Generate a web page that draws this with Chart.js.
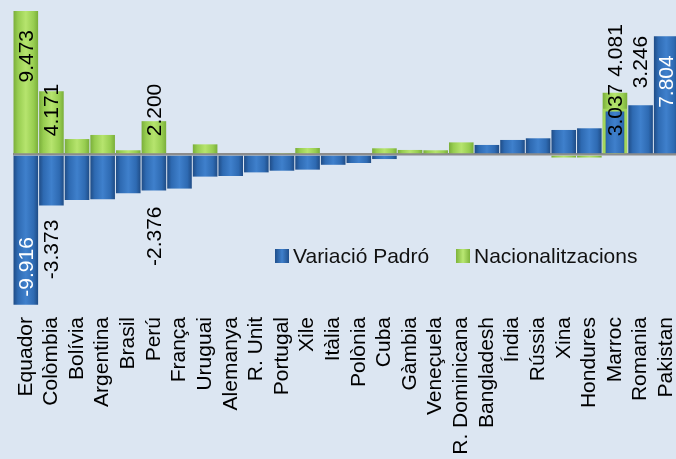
<!DOCTYPE html>
<html>
<head>
<meta charset="utf-8">
<script src="https://cdn.jsdelivr.net/npm/chart.js@4.4.0/dist/chart.umd.min.js"></script>
<style>
  html, body { margin: 0; padding: 0; background: #dce6f2; overflow: hidden; }
  #wrap { width: 680px; height: 459px; }
</style>
</head>
<body>
<div id="wrap"><canvas id="chart"></canvas></div>
<script>
// Data
const countries = ["Equador", "Colòmbia", "Bolívia", "Argentina", "Brasil", "Perú", "França", "Uruguai",
  "Alemanya", "R. Unit", "Portugal", "Xile", "Itàlia", "Polònia", "Cuba", "Gàmbia", "Veneçuela",
  "R. Dominicana", "Bangladesh", "Índia", "Rússia", "Xina", "Hondures", "Marroc", "Romania", "Pakistan"];

const padro = [-9916, -3373, -3000, -2960, -2560, -2376, -2250, -1460,
  -1420, -1180, -1070, -1000, -680, -560, -300, 0, 0,
  0, 630, 960, 1070, 1620, 1730, 3037, 3246, 7804];

const nacionalitzacions = [9473, 4171, 1020, 1290, 280, 2200, 0, 670,
  0, 0, 100, 430, 0, 0, 410, 300, 280,
  800, 0, 0, 0, -200, -200, 4081, 0, 0];

const seriesNames = ["Variació Padró", "Nacionalitzacions"];

// which bars get a value label, and where
const valueLabels = [
  { ds: 1, i: 0, at: "end", off: -19, color: "#000" },
  { ds: 0, i: 0, at: "end", off: -8, color: "#fff" },
  { ds: 1, i: 1, at: "base", off: 17, color: "#000" },
  { ds: 0, i: 1, at: "end", off: 14, color: "#000" },
  { ds: 1, i: 5, at: "base", off: 17, color: "#000" },
  { ds: 0, i: 5, at: "end", off: 16, color: "#000" },
  { ds: 1, i: 23, at: "end", off: 16, color: "#000" },
  { ds: 0, i: 23, at: "base", off: 17, color: "#000" },
  { ds: 0, i: 24, at: "end", off: 17, color: "#000" },
  { ds: 0, i: 25, at: "end", off: -19, color: "#fff" }
];

const FONT = "'Liberation Sans', Arial, sans-serif";
const BAR_PCT = 0.96;

function fmt(v) {
  const s = Math.abs(v).toString().replace(/\B(?=(\d{3})+(?!\d))/g, ".");
  return (v < 0 ? "-" : "") + s;
}

// horizontal gradient across each bar, for the bevelled look
function barFill(dark, mid, light) {
  return (c) => {
    const chart = c.chart;
    const xs = chart.scales.x;
    if (c.type !== "data" || !chart.chartArea || !xs) return mid;
    const cx = xs.getPixelForValue(c.dataIndex);
    const w = xs.width / countries.length * BAR_PCT;
    const g = chart.ctx.createLinearGradient(cx - w / 2, 0, cx + w / 2, 0);
    g.addColorStop(0, dark);
    g.addColorStop(0.18, mid);
    g.addColorStop(0.5, light);
    g.addColorStop(0.82, mid);
    g.addColorStop(1, dark);
    return g;
  };
}

const valueLabelPlugin = {
  id: "valueLabels",
  afterDatasetsDraw(chart) {
    const ctx = chart.ctx;
    ctx.save();
    ctx.font = "21px " + FONT;
    ctx.textBaseline = "middle";
    valueLabels.forEach(l => {
      const el = chart.getDatasetMeta(l.ds).data[l.i];
      const v = chart.data.datasets[l.ds].data[l.i];
      const dir = v >= 0 ? -1 : 1;
      let y, grow;
      if (l.at === "base") {
        y = el.base + dir * l.off;
        grow = dir;
      } else {
        y = el.y + dir * l.off;
        grow = l.off > 0 ? dir : -dir;
      }
      ctx.save();
      ctx.translate(el.x, y);
      ctx.rotate(-Math.PI / 2);
      ctx.textAlign = grow < 0 ? "left" : "right";
      ctx.fillStyle = l.color;
      ctx.fillText(fmt(v), 0, 1);
      ctx.restore();
    });
    ctx.restore();
  }
};

const legendPlugin = {
  id: "innerLegend",
  afterDraw(chart) {
    const ctx = chart.ctx;
    const items = [
      { x: 275, colors: ["#1f4f8c", "#3f80cc"] },
      { x: 456, colors: ["#7db33a", "#b9e873"] }
    ];
    const y = 256;
    ctx.save();
    ctx.font = "21px " + FONT;
    ctx.textBaseline = "middle";
    ctx.textAlign = "left";
    items.forEach((it, k) => {
      const g = ctx.createLinearGradient(it.x, 0, it.x + 14, 0);
      g.addColorStop(0, it.colors[0]);
      g.addColorStop(0.5, it.colors[1]);
      g.addColorStop(1, it.colors[0]);
      ctx.fillStyle = g;
      ctx.fillRect(it.x, y - 7, 14, 14);
      ctx.fillStyle = "#111";
      ctx.fillText(chart.data.datasets[k].label, it.x + 18, y + 1);
    });
    ctx.restore();
  }
};

const ctx = document.getElementById("chart").getContext("2d");

new Chart(ctx, {
  type: "bar",
  data: {
    labels: countries,
    datasets: [
      {
        label: seriesNames[0],
        data: padro,
        backgroundColor: barFill("#1f4c86", "#2e6ab2", "#3f80cc"),
        borderColor: "#a3d65c",
        borderWidth: (c) => (c.dataIndex === 23 ? 3 : 0)
      },
      {
        label: seriesNames[1],
        data: nacionalitzacions,
        backgroundColor: barFill("#7aae3a", "#97cd50", "#b6e46e"),
        borderWidth: 0
      }
    ]
  },
  options: {
    responsive: true,
    maintainAspectRatio: false,
    animation: false,
    grouped: false,
    categoryPercentage: 1,
    barPercentage: BAR_PCT,
    layout: { padding: { left: 13, right: 1, top: 3, bottom: 0 } },
    plugins: {
      legend: { display: false },
      tooltip: { enabled: false }
    },
    scales: {
      x: {
        grid: { display: false, drawTicks: false },
        border: { display: false },
        ticks: {
          autoSkip: false,
          minRotation: 90,
          maxRotation: 90,
          padding: 11,
          color: "#000",
          font: { family: FONT, size: 21 }
        },
        afterFit(scale) {
          scale.height = 153;
          scale.paddingLeft = 0;
          scale.paddingRight = 0;
        }
      },
      y: {
        min: -10000,
        max: 10000,
        z: 1,
        ticks: { display: false, stepSize: 10000 },
        border: { display: false },
        grid: {
          drawTicks: false,
          lineWidth: 2.5,
          color: (c) => (c.tick && c.tick.value === 0 ? "#8c8c8c" : "rgba(0,0,0,0)")
        }
      }
    }
  },
  plugins: [valueLabelPlugin, legendPlugin]
});
</script>
</body>
</html>
